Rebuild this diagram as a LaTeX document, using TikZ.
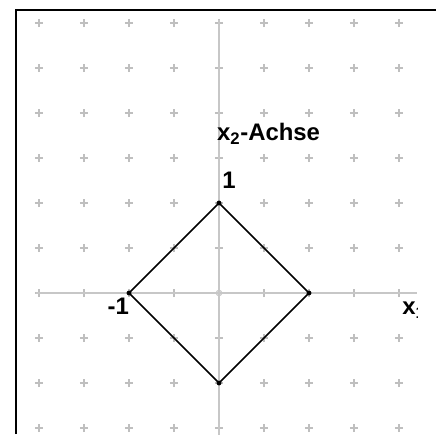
\documentclass[tikz,border=0pt]{standalone}
\usepackage{fontspec}
\setmainfont{Liberation Sans}
\usepackage{tikz}
\usetikzlibrary{calc,positioning}
\colorlet{axisgray}{black!22}
\colorlet{gridgray}{black!25}

\begin{document}
\begin{tikzpicture}[x=2.25cm, y=2.25cm,
    gridcross/.style={gridgray, line width=0.8pt},
    axisline/.style={axisgray, line width=1.3pt},
    framebar/.style={black, line width=1.5pt},
    edge/.style={black, line width=1.2pt},
    vertexdot/.style={fill=black, circle, inner sep=0pt, minimum size=3.5pt},
    lbl/.style={font=\fontsize{17}{19}\selectfont\bfseries, inner sep=0pt, anchor=base west}]
  \useasboundingbox (-2.4333,-1.5667) rectangle (2.4111,3.2556);

  % Frame corners
  \coordinate (frameB) at (-2.2556,-1.5667);
  \coordinate (frameC) at (-2.2556,3.1444);
  \coordinate (frameR) at (2.4111,3.1444);

  \begin{scope}
    \clip (frameB) rectangle (2.2,3.1444);

    % Grid of small crosses, step 1/2
    \pgfmathsetmacro{\h}{0.045}
    \foreach \gx in {-2,-1.5,...,2}
      \foreach \gy in {-1.5,-1,...,3}
        \draw[gridcross] (\gx-\h,\gy) -- (\gx+\h,\gy) (\gx,\gy-\h) -- (\gx,\gy+\h);

    % Axes
    \draw[axisline] (-2.03,0) -- (2.2,0);
    \draw[axisline] (0,3.03) -- (0,-1.6);
    \draw[axisgray, line width=0.8pt] (0,0) circle (0.03);

    % Unit ball of the 1-norm
    \node[vertexdot] (right) at (1,0) {};
    \node[vertexdot] (top) at (0,1) {};
    \node[vertexdot] (left) at (-1,0) {};
    \node[vertexdot] (bottom) at (0,-1) {};
    \draw[edge] (right.center) -- (top.center) -- (left.center) -- (bottom.center) -- cycle;

    % Labels
    \node[lbl] (ylabel) at (-0.025,1.689) {x\textsubscript{2}-Achse};
    \node[lbl] (one) at (0.033,1.156) {1};
    \node[lbl] (minusone) at (-1.24,-0.235) {-1};
    \node[lbl] (xlabel) at (2.033,-0.244) {x\textsubscript{1}};
  \end{scope}

  % Frame
  \draw[framebar] (frameB) -- (frameC) -- (frameR);
\end{tikzpicture}
\end{document}
